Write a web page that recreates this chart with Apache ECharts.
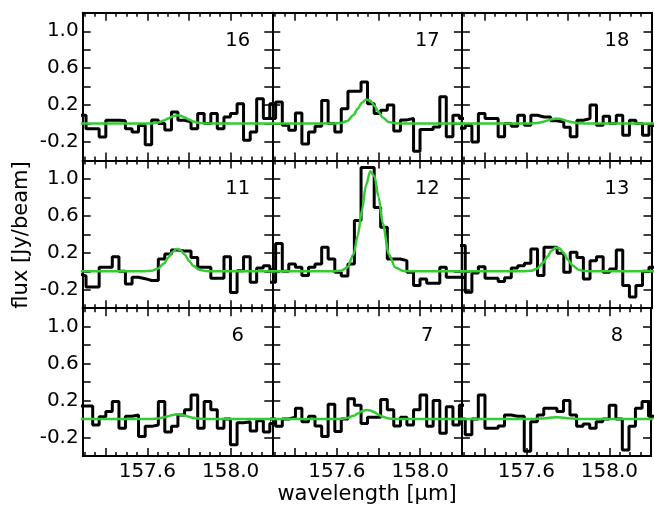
<!DOCTYPE html>
<html><head><meta charset="utf-8">
<script src="https://cdn.jsdelivr.net/npm/echarts@6/dist/echarts.min.js"></script>
<style>html,body{margin:0;padding:0;background:#fff}#c{width:654px;height:509px}</style>
</head><body><div id="c"></div>
<script>
// channel edges (wavelength, µm)
const binEdges = [157.243, 157.275, 157.306, 157.338, 157.369, 157.401, 157.432, 157.464, 157.495, 157.527,
  157.558, 157.590, 157.621, 157.653, 157.684, 157.716, 157.747, 157.779, 157.810, 157.842,
  157.873, 157.905, 157.936, 157.968, 157.999, 158.031, 158.062, 158.094, 158.125, 158.157,
  158.188, 158.220, 158.251];
const panelIds = ['16', '17', '18', '11', '12', '13', '6', '7', '8'];
// spectra (Jy/beam) per channel
const flux16 = [0.02, 0.09, -0.055, -0.055, -0.145, 0.035, 0.035, 0.03, -0.055, -0.09, -0.02, -0.23, 0.04, 0.0, -0.07, 0.126, 0.036, 0.02, -0.055, 0.11, 0.0, 0.11, -0.055, 0.07, 0.11, 0.216, -0.18, -0.09, 0.27, 0.054, 0.216, 0.05];
const flux17 = [0.054, 0.054, 0.234, -0.018, -0.072, 0.115, -0.22, -0.09, -0.03, 0.25, 0.0, -0.09, 0.16, 0.35, 0.35, 0.45, 0.216, 0.108, 0.144, 0.2, -0.08, 0.04, 0.054, -0.3, -0.065, -0.065, -0.036, 0.29, -0.144, 0.09, 0.054, 0.054];
const flux18 = [0.09, -0.05, -0.02, -0.2, 0.108, 0.054, 0.054, -0.144, 0.0, -0.03, 0.09, -0.018, 0.09, 0.072, 0.072, 0.03, 0.018, -0.04, -0.144, 0.036, 0.054, 0.2, -0.018, 0.08, 0.0, 0.09, -0.126, 0.036, 0.0, -0.126, -0.02, 0.0];
const flux11 = [-0.03, -0.05, -0.17, -0.17, 0.043, 0.043, 0.158, 0.0, -0.137, -0.065, -0.08, -0.1, -0.1, 0.133, 0.187, 0.23, 0.22, 0.22, 0.15, 0.043, 0.043, -0.075, -0.075, 0.158, -0.23, 0.007, 0.158, -0.12, 0.036, 0.06, 0.02, 0.05];
const flux12 = [0.0, -0.12, 0.3, 0.0, 0.08, 0.043, -0.047, 0.043, 0.08, 0.26, 0.133, -0.01, -0.05, 0.08, 0.55, 1.124, 1.124, 0.69, 0.476, 0.133, 0.133, 0.115, -0.01, -0.155, -0.083, -0.13, -0.13, 0.043, -0.065, -0.065, -0.07, 0.0];
const flux13 = [-0.07, 0.28, -0.227, -0.02, 0.05, -0.076, -0.076, -0.11, -0.07, 0.036, 0.06, 0.086, 0.24, -0.047, 0.26, 0.26, 0.195, -0.01, 0.205, 0.15, -0.083, 0.115, 0.158, -0.01, 0.025, 0.23, -0.155, -0.28, -0.155, 0.0, 0.043, 0.0];
const flux6 = [0.05, 0.14, 0.14, -0.065, 0.025, 0.08, 0.19, -0.1, 0.03, 0.043, -0.19, -0.08, -0.065, 0.19, -0.14, -0.08, 0.043, 0.1, 0.26, -0.1, 0.19, 0.1, -0.1, 0.0, -0.28, -0.04, -0.03, -0.13, -0.02, -0.14, -0.05, 0.02];
const flux7 = [-0.137, 0.0, -0.08, 0.0, 0.018, 0.115, -0.03, 0.03, -0.076, -0.19, 0.16, -0.137, 0.0, 0.22, 0.15, -0.05, 0.018, 0.018, 0.21, 0.1, -0.076, 0.018, -0.065, 0.1, 0.26, -0.08, 0.2, -0.155, 0.133, -0.065, 0.15, -0.1];
const flux8 = [0.14, 0.0, -0.17, 0.0, 0.26, -0.1, -0.1, -0.076, 0.043, 0.03, 0.03, -0.35, -0.03, 0.043, 0.115, 0.115, 0.08, 0.2, 0.043, -0.08, -0.054, -0.1, -0.03, 0.0, 0.15, 0.0, -0.335, -0.08, 0.115, 0.19, 0.03, 0.0];
// gaussian fit curves (green), read at these wavelengths
const fitX = [157.243, 157.52, 157.58, 157.62, 157.65, 157.68, 157.70, 157.72, 157.74, 157.76, 157.78, 157.80, 157.82, 157.85, 157.88, 157.92, 157.98, 158.251];
const fit16 = [0, 0, 0, 0.002, 0.010, 0.032, 0.055, 0.077, 0.089, 0.085, 0.067, 0.043, 0.022, 0.006, 0.001, 0, 0, 0];
const fit17 = [0, 0, 0, 0.006, 0.028, 0.093, 0.160, 0.225, 0.261, 0.249, 0.194, 0.125, 0.065, 0.017, 0.003, 0, 0, 0];
const fit18 = [0, 0, 0, 0.001, 0.006, 0.019, 0.033, 0.046, 0.054, 0.051, 0.040, 0.026, 0.013, 0.004, 0.001, 0, 0, 0];
const fit11 = [0, 0, 0, 0.005, 0.026, 0.085, 0.147, 0.207, 0.241, 0.229, 0.179, 0.115, 0.060, 0.016, 0.003, 0, 0, 0];
const fit12 = [0, 0, 0, 0.006, 0.042, 0.183, 0.384, 0.661, 0.934, 1.083, 1.031, 0.806, 0.517, 0.183, 0.042, 0.003, 0, 0];
const fit13 = [0, 0, 0, 0.005, 0.028, 0.092, 0.158, 0.223, 0.258, 0.246, 0.192, 0.123, 0.065, 0.017, 0.003, 0, 0, 0];
const fit6 = [0, 0, 0, 0.001, 0.005, 0.018, 0.030, 0.043, 0.050, 0.047, 0.037, 0.024, 0.012, 0.003, 0.001, 0, 0, 0];
const fit7 = [0, 0, 0, 0.002, 0.010, 0.034, 0.059, 0.083, 0.096, 0.092, 0.072, 0.046, 0.024, 0.006, 0.001, 0, 0, 0];
const fit8 = [0, 0, 0, 0, 0.002, 0.006, 0.011, 0.015, 0.018, 0.017, 0.013, 0.009, 0.004, 0.001, 0, 0, 0, 0];
const xTickLabels = ['157.6', '158.0'];
const yTickLabels = ['-0.2', '0.2', '0.6', '1.0'];
const xAxisName = 'wavelength [µm]';
const yAxisName = 'flux [Jy/beam]';

const fluxes = [flux16, flux17, flux18, flux11, flux12, flux13, flux6, flux7, flux8];
const fits = [fit16, fit17, fit18, fit11, fit12, fit13, fit6, fit7, fit8];

// layout / style
const X_MIN = 157.29, X_MAX = 158.2, Y_MIN = -0.4, Y_MAX = 1.2;
const GL = [82.7, 272.3, 461.9], GW = 189.6;
const GT = [12.8, 160.5, 308.2], GH = 147.7;
const FONT = '"DejaVu Sans", sans-serif';
const FS_TICK = 20, FS_NAME = 21, FS_ID = 19.5;

const chart = echarts.init(document.getElementById('c'), null, {renderer: 'canvas', width: 654, height: 509});
const grids = [], xAxes = [], yAxes = [], series = [], graphics = [];

function xFmt(v) { const s = v.toFixed(1); return (xTickLabels.includes(s) && Math.abs(v - parseFloat(s)) < 1e-6) ? s : ''; }
function yFmt(v) { const s = (Math.abs(v) < 1e-9 ? 0 : v).toFixed(1); return (yTickLabels.includes(s) && Math.abs(v - parseFloat(s)) < 1e-6) ? s : ''; }

for (let g = 0; g < 9; g++) {
  const r = Math.floor(g / 3), c = g % 3;
  grids.push({left: GL[c], top: GT[r], width: GW, height: GH, containLabel: false});
  const line = {show: true, onZero: false, lineStyle: {color: '#000', width: 2}};
  const xb = {
    type: 'value', gridIndex: g, min: X_MIN, max: X_MAX,
    splitLine: {show: false}, minorSplitLine: {show: false},
    axisLine: line,
    axisTick: {show: true, inside: true, length: 8, lineStyle: {color: '#000', width: 1.5}},
    minorTick: {show: true, splitNumber: 4, length: 4, lineStyle: {color: '#000', width: 1.5}}
  };
  xAxes.push(Object.assign({}, xb, {position: 'bottom',
    axisLabel: {show: r === 2, margin: 6, color: '#000', fontFamily: FONT, fontSize: FS_TICK, formatter: xFmt, hideOverlap: false}}));
  xAxes.push(Object.assign({}, xb, {position: 'top', axisLabel: {show: false}}));
  const yb = {
    type: 'value', gridIndex: g, min: Y_MIN, max: Y_MAX, interval: 0.2,
    splitLine: {show: false},
    axisLine: line,
    axisTick: {show: true, inside: true, length: 8, lineStyle: {color: '#000', width: 1.5}}
  };
  yAxes.push(Object.assign({}, yb, {position: 'left',
    axisLabel: {show: c === 0, margin: 4, color: '#000', fontFamily: FONT, fontSize: FS_TICK, formatter: yFmt, hideOverlap: false}}));
  yAxes.push(Object.assign({}, yb, {position: 'right', axisLabel: {show: false}}));

  const f = fluxes[g];
  const pts = f.map((v, i) => [binEdges[i], v]);
  pts.push([binEdges[f.length], f[f.length - 1]]);
  series.push({type: 'line', xAxisIndex: 2 * g, yAxisIndex: 2 * g, data: pts, step: 'end',
    symbol: 'none', clip: false, z: 3, lineStyle: {color: '#000', width: 3}});
  series.push({type: 'line', xAxisIndex: 2 * g, yAxisIndex: 2 * g, data: fitX.map((x, i) => [x, fits[g][i]]),
    smooth: 0.3, smoothMonotone: 'x', symbol: 'none', clip: false, z: 4, lineStyle: {color: '#33cc33', width: 2.5}});

  graphics.push({type: 'text', x: GL[c] + 155, y: GT[r] + 28, z: 10,
    style: {text: panelIds[g], font: FS_ID + 'px ' + FONT, fill: '#000',
      align: 'center', verticalAlign: 'middle', textAlign: 'center', textVerticalAlign: 'middle'}});
}
graphics.push({type: 'text', x: 367, y: 495, z: 10,
  style: {text: xAxisName, font: FS_NAME + 'px ' + FONT, fill: '#000', align: 'center', verticalAlign: 'middle', textAlign: 'center', textVerticalAlign: 'middle'}});
graphics.push({type: 'text', x: 22, y: 235, rotation: Math.PI / 2, z: 10,
  style: {text: yAxisName, font: FS_NAME + 'px ' + FONT, fill: '#000', align: 'center', verticalAlign: 'middle', textAlign: 'center', textVerticalAlign: 'middle'}});

chart.setOption({animation: false, backgroundColor: '#fff', grid: grids, xAxis: xAxes, yAxis: yAxes, series: series, graphic: graphics});
</script></body></html>
